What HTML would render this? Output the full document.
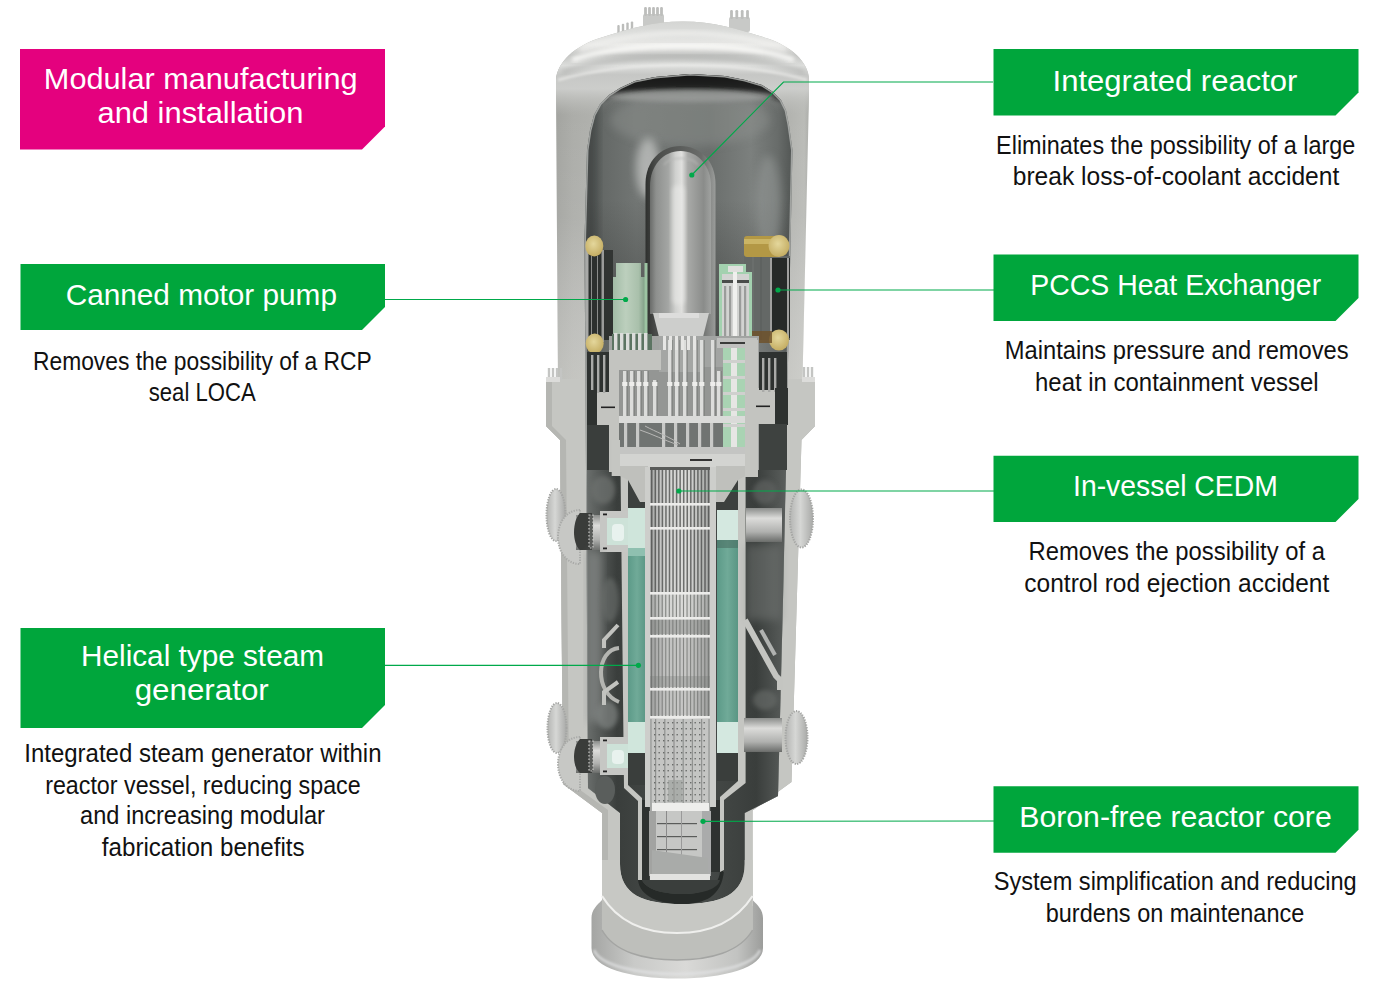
<!DOCTYPE html>
<html><head><meta charset="utf-8"><style>
html,body{margin:0;padding:0;background:#fff;width:1378px;height:986px;overflow:hidden}
svg{display:block;font-family:"Liberation Sans",sans-serif}
</style></head><body>
<svg width="1378" height="986" viewBox="0 0 1378 986">
<defs>
<linearGradient id="gWall" x1="0" x2="1" y1="0" y2="0">
 <stop offset="0" stop-color="#8e8f8b"/><stop offset="0.03" stop-color="#a2a39f"/>
 <stop offset="0.1" stop-color="#acada9"/><stop offset="0.5" stop-color="#c2c3bf"/>
 <stop offset="0.9" stop-color="#b2b3af"/><stop offset="0.96" stop-color="#babbb7"/><stop offset="1" stop-color="#9c9d99"/>
</linearGradient>
<linearGradient id="gDome" x1="0" x2="0" y1="0" y2="1">
 <stop offset="0" stop-color="#d4d5d3"/><stop offset="0.12" stop-color="#dcdddb"/><stop offset="0.25" stop-color="#e8e8e6"/>
 <stop offset="0.36" stop-color="#c2c3c1"/><stop offset="0.47" stop-color="#dddedc"/><stop offset="0.57" stop-color="#c6c7c5"/>
 <stop offset="0.72" stop-color="#cfd0ce" stop-opacity="0.9"/><stop offset="0.86" stop-color="#c0c1be" stop-opacity="0.6"/><stop offset="1" stop-color="#b9bab7" stop-opacity="0"/>
</linearGradient>
<linearGradient id="gCavUp" x1="0" x2="1" y1="0" y2="0">
 <stop offset="0" stop-color="#545856"/><stop offset="0.08" stop-color="#646866"/>
 <stop offset="0.25" stop-color="#727674"/><stop offset="0.4" stop-color="#6e7270"/>
 <stop offset="0.6" stop-color="#6a6e6c"/><stop offset="0.8" stop-color="#7c807e"/>
 <stop offset="0.93" stop-color="#686c6a"/><stop offset="1" stop-color="#525654"/>
</linearGradient>
<linearGradient id="gTopShade" x1="0" x2="0" y1="0" y2="1">
 <stop offset="0" stop-color="#121412" stop-opacity="0.95"/><stop offset="0.14" stop-color="#2a2c2a" stop-opacity="0.7"/><stop offset="0.26" stop-color="#8a8c8a" stop-opacity="0.35"/><stop offset="0.45" stop-color="#6a6c6a" stop-opacity="0"/>
</linearGradient>
<linearGradient id="gBotShade" x1="0" x2="0" y1="0" y2="1">
 <stop offset="0" stop-color="#2a2c2a" stop-opacity="0"/><stop offset="1" stop-color="#2a2c2a" stop-opacity="0.5"/>
</linearGradient>
<linearGradient id="gPress" x1="0" x2="1" y1="0" y2="0">
 <stop offset="0" stop-color="#6a6c6a"/><stop offset="0.1" stop-color="#8e908e"/><stop offset="0.3" stop-color="#a4a6a4"/><stop offset="0.42" stop-color="#d0d1cf"/><stop offset="0.52" stop-color="#e0e0de"/>
 <stop offset="0.62" stop-color="#a9aaa8"/><stop offset="0.88" stop-color="#8a8c8a"/><stop offset="1" stop-color="#a0a2a0"/>
</linearGradient>
<linearGradient id="gRim" x1="0" x2="1" y1="0" y2="0">
 <stop offset="0" stop-color="#2e302e"/><stop offset="0.15" stop-color="#4a4c4a"/><stop offset="0.8" stop-color="#6a6c6a"/><stop offset="1" stop-color="#9a9c9a"/>
</linearGradient>
<linearGradient id="gWallV" x1="0" x2="0" y1="0" y2="1">
 <stop offset="0" stop-color="#ffffff" stop-opacity="0"/><stop offset="0.4" stop-color="#ffffff" stop-opacity="0.05"/><stop offset="1" stop-color="#e8e8e4" stop-opacity="0.4"/>
</linearGradient>
<linearGradient id="gPump" x1="0" x2="1" y1="0" y2="0">
 <stop offset="0" stop-color="#a2bca6"/><stop offset="0.4" stop-color="#bccfbd"/><stop offset="0.8" stop-color="#a9c0ab"/><stop offset="1" stop-color="#7f9e85"/>
</linearGradient>
<radialGradient id="gGold" cx="0.45" cy="0.4" r="0.65">
 <stop offset="0" stop-color="#e4d79c"/><stop offset="1" stop-color="#c2aa5e"/>
</radialGradient>
<linearGradient id="gCore" x1="0" x2="1" y1="0" y2="0">
 <stop offset="0" stop-color="#a4a6a4"/><stop offset="0.25" stop-color="#d2d3d1"/><stop offset="0.6" stop-color="#dcdcda"/><stop offset="1" stop-color="#a4a6a4"/>
</linearGradient>
<linearGradient id="gTeal" x1="0" x2="1" y1="0" y2="0">
 <stop offset="0" stop-color="#5c9a88"/><stop offset="0.5" stop-color="#70aa98"/><stop offset="1" stop-color="#5a9684"/>
</linearGradient>
<linearGradient id="gCavLow" x1="0" x2="1" y1="0" y2="0">
 <stop offset="0" stop-color="#6a6e6c"/><stop offset="0.15" stop-color="#3a3e3c"/><stop offset="0.5" stop-color="#4a4e4c"/><stop offset="0.85" stop-color="#3a3e3c"/><stop offset="1" stop-color="#5a5e5c"/>
</linearGradient>
<linearGradient id="gSkirt" x1="0" x2="1" y1="0" y2="0">
 <stop offset="0" stop-color="#a4a5a3"/><stop offset="0.25" stop-color="#c9cac8"/><stop offset="0.55" stop-color="#d9d9d7"/><stop offset="0.85" stop-color="#c2c3c1"/><stop offset="1" stop-color="#9c9d9b"/>
</linearGradient>
<linearGradient id="gDisc" x1="0" x2="1" y1="0" y2="0">
 <stop offset="0" stop-color="#b4b5b3"/><stop offset="0.45" stop-color="#d6d7d5"/><stop offset="1" stop-color="#a9aaa8"/>
</linearGradient>
<linearGradient id="gPipe" x1="0" x2="0" y1="0" y2="1">
 <stop offset="0" stop-color="#8a8c8a"/><stop offset="0.3" stop-color="#dcdcda"/><stop offset="0.7" stop-color="#b0b1af"/><stop offset="1" stop-color="#6a6c6a"/>
</linearGradient>
<filter id="b2" x="-20%" y="-20%" width="140%" height="140%"><feGaussianBlur stdDeviation="2"/></filter>
<filter id="b4" x="-30%" y="-30%" width="160%" height="160%"><feGaussianBlur stdDeviation="4"/></filter>
<filter id="b1" x="-20%" y="-20%" width="140%" height="140%"><feGaussianBlur stdDeviation="1"/></filter>
</defs>
<g id="reactor">
<rect x="643" y="14" width="21" height="14" rx="2" fill="#c8c9c7"/>
<rect x="644.1" y="7" width="2.8" height="9" rx="1.2" fill="#bdbebc"/>
<rect x="648.1" y="7" width="2.8" height="9" rx="1.2" fill="#bdbebc"/>
<rect x="652.1" y="7" width="2.8" height="9" rx="1.2" fill="#bdbebc"/>
<rect x="656.1" y="7" width="2.8" height="9" rx="1.2" fill="#bdbebc"/>
<rect x="660.1" y="7" width="2.8" height="9" rx="1.2" fill="#bdbebc"/>
<rect x="729" y="17" width="21" height="15" rx="2" fill="#c8c9c7"/>
<rect x="730.1" y="10" width="2.8" height="9" rx="1.2" fill="#bdbebc"/>
<rect x="735.4" y="10" width="2.8" height="9" rx="1.2" fill="#bdbebc"/>
<rect x="740.8" y="10" width="2.8" height="9" rx="1.2" fill="#bdbebc"/>
<rect x="746.1" y="10" width="2.8" height="9" rx="1.2" fill="#bdbebc"/>
<path d="M617,34 L634,28 L634,34 L617,38 Z" fill="#c4c5c3"/>
<rect x="617.3" y="25.0" width="2.4" height="9" rx="1" fill="#bcbdbb"/>
<rect x="621.8" y="23.8" width="2.4" height="9" rx="1" fill="#bcbdbb"/>
<rect x="626.3" y="22.6" width="2.4" height="9" rx="1" fill="#bcbdbb"/>
<rect x="630.8" y="21.4" width="2.4" height="9" rx="1" fill="#bcbdbb"/>
<path d="M556,96 L556,80 C557,62 575,46 600,38 C628,29 652,21.5 683,21.5 C714,21.5 738,29 766,38 C791,46 809,62 809,80 L809,96 L802.5,379 L815,379 L815,426 L801.5,440 L791.5,782 L752.6,810.5 L752.6,900 L602,900 L602,813 L563,784 L560,440 L546,426 L546,379 L558,379 Z" fill="url(#gWall)"/>
<path d="M556,96 L556,80 C557,62 575,46 600,38 C628,29 652,21.5 683,21.5 C714,21.5 738,29 766,38 C791,46 809,62 809,80 L809,115 L556,115 Z" fill="url(#gDome)"/>
<path d="M580,50 C610,38 650,33 683,33 C716,33 756,38 786,50" fill="none" stroke="#f2f2f0" stroke-width="4" opacity="0.8" filter="url(#b2)"/>
<path d="M572,60 C600,50 640,46 683,46 C726,46 766,50 794,60" fill="none" stroke="#fafaf8" stroke-width="6" opacity="0.9" filter="url(#b2)"/>
<path d="M562,72 C600,60 640,57 683,57 C726,57 766,60 804,72" fill="none" stroke="#a9aaa8" stroke-width="4" opacity="0.55" filter="url(#b2)"/>
<path d="M558,80 C600,68 640,65 683,65 C726,65 766,68 807,80" fill="none" stroke="#eeeeec" stroke-width="3" opacity="0.6" filter="url(#b1)"/>
<path d="M556,110 L809,110 L802.5,379 L558,379 Z" fill="url(#gWallV)"/>
<path d="M546,379 L558,379 L802.5,379 L815,379 L815,426 L801.5,440 L791.5,782 L752.6,810.5 L752.6,900 L602,900 L602,813 L563,784 L560,440 L546,426 Z" fill="#c5c6c2"/>
<path d="M546,379 L546,426 L560,440 L563,784 L602,813 L602,900 L608,900 L608,810 L569,782 L566,440 L552,426 L552,379 Z" fill="#b5b6b2"/>
<rect x="547.8" y="368" width="2.4" height="12" fill="#c4c5c3"/>
<rect x="551.8" y="368" width="2.4" height="12" fill="#c4c5c3"/>
<rect x="555.8" y="368" width="2.4" height="12" fill="#c4c5c3"/>
<rect x="559.8" y="368" width="2.4" height="12" fill="#c4c5c3"/>
<rect x="802.8" y="367" width="2.4" height="13" fill="#c4c5c3"/>
<rect x="806.8" y="367" width="2.4" height="13" fill="#c4c5c3"/>
<rect x="810.8" y="367" width="2.4" height="13" fill="#c4c5c3"/>
<rect x="546" y="377" width="14" height="5" fill="#dcdcda"/><rect x="802" y="377" width="13" height="5" fill="#dcdcda"/>
<ellipse cx="556" cy="515" rx="9.5" ry="26" fill="url(#gDisc)" stroke="#a4a5a3" stroke-width="2" stroke-dasharray="1.3 1.3"/>
<ellipse cx="557" cy="728" rx="9.5" ry="25" fill="url(#gDisc)" stroke="#a4a5a3" stroke-width="2" stroke-dasharray="1.3 1.3"/>
<ellipse cx="801.5" cy="518.5" rx="11.5" ry="29" fill="url(#gDisc)" stroke="#a4a5a3" stroke-width="2" stroke-dasharray="1.3 1.3"/>
<ellipse cx="796.5" cy="737.5" rx="11" ry="26.5" fill="url(#gDisc)" stroke="#a4a5a3" stroke-width="2" stroke-dasharray="1.3 1.3"/>
<path d="M580,510 C566,510 558,523 558,537 C558,551 566,564 580,564 Z" fill="#c7c8c5" stroke="#a9aaa8" stroke-width="2" stroke-dasharray="1.3 1.3"/>
<path d="M580,737 C566,737 558,750 558,764 C558,778 566,791 580,791 Z" fill="#c7c8c5" stroke="#a9aaa8" stroke-width="2" stroke-dasharray="1.3 1.3"/>
<clipPath id="cavClip"><path d="M584.5,240 L587,150 L590,130 L594,115 L600,104 L609,95 L620,88 L635,81 L655,77 L690,74 L725,76 L745,80 L762,85 L773,92 L781,100 L786,110 L789,125 L792.5,150 L783,600 L778,796 L744.7,813 L744.7,864 C744.7,895 720,904 682,904 C644,904 620,895 620,864 L620,813 L588,788 L586,470 Z"/></clipPath>
<path d="M584.5,240 L587,150 L590,130 L594,115 L600,104 L609,95 L620,88 L635,81 L655,77 L690,74 L725,76 L745,80 L762,85 L773,92 L781,100 L786,110 L789,125 L792.5,150 L783,600 L778,796 L744.7,813 L744.7,864 C744.7,895 720,904 682,904 C644,904 620,895 620,864 L620,813 L588,788 L586,470 Z" fill="url(#gCavUp)"/>
<g clip-path="url(#cavClip)">
<rect x="580" y="74" width="215" height="90" fill="url(#gTopShade)"/>
<rect x="580" y="200" width="215" height="140" fill="url(#gBotShade)"/>
<path d="M560,120 C590,80 650,72 690,72 C730,72 790,80 820,120 C780,92 730,88 690,88 C650,88 600,92 560,120 Z" fill="#141614" opacity="0.75" filter="url(#b2)"/>
<ellipse cx="690" cy="120" rx="80" ry="26" fill="#8e928f" opacity="0.45" filter="url(#b4)"/>
<ellipse cx="690" cy="96" rx="85" ry="6" fill="#a4a6a4" opacity="0.6" filter="url(#b2)"/>
<ellipse cx="648" cy="168" rx="12" ry="30" fill="#c4c6c4" opacity="0.75" filter="url(#b4)"/>
<rect x="584" y="100" width="14" height="250" fill="#2e3230" opacity="0.45" filter="url(#b4)"/>
<ellipse cx="768" cy="205" rx="13" ry="50" fill="#9a9e9c" opacity="0.5" filter="url(#b4)"/>
<path d="M584.5,240 L587,150 L590,130 L594,115 L600,104 L609,95 L620,88 L635,81 L655,77 L690,74 L725,76 L745,80 L762,85 L773,92 L781,100 L786,110 L789,125 L792.5,150 L783,600 L778,796 L744.7,813 L744.7,864 C744.7,895 720,904 682,904 C644,904 620,895 620,864 L620,813 L588,788 L586,470 Z" fill="none" stroke="#b4b6b4" stroke-width="3" opacity="0.8"/>
</g>
<path d="M587,470 L786,470 L783,600 L778,796 L744.7,813 L744.7,864 C744.7,895 720,904 682,904 C644,904 620,895 620,864 L620,813 L588,788 Z" fill="url(#gCavLow)"/>
<path d="M645.5,336 L645.5,184 C645.5,161 661,146 680.5,146 C700,146 715.5,161 715.5,184 L715.5,336 Z" fill="url(#gRim)"/>
<path d="M650,314 L650,186 C650,166 663,151 680.5,151 C698,151 711,166 711,186 L711,314 Z" fill="url(#gPress)"/>
<path d="M664,165 C670,156 692,156 698,165" stroke="#b8b9b7" stroke-width="2" fill="none" opacity="0.6" filter="url(#b1)"/>
<rect x="672" y="185" width="13" height="120" rx="6" fill="#ececea" opacity="0.5" filter="url(#b2)"/>
<path d="M653,313 L709,313 L703,337 L659,337 Z" fill="#cdcecc"/>
<rect x="659" y="313" width="40" height="5" fill="#e4e4e2" opacity="0.7"/>
<rect x="604" y="250" width="9" height="90" fill="#2a2e2c" opacity="0.85"/>
<path d="M616,263 L641,263 L641,277 L645,277 L645,337 L613,337 L613,277 L616,277 Z" fill="url(#gPump)"/>
<rect x="644.5" y="263" width="3" height="73" fill="#9cc4a2"/>
<rect x="586" y="250" width="18" height="92" fill="#2c302e"/>
<rect x="586" y="250" width="2.5" height="92" fill="#a9aaa8"/><rect x="601.5" y="250" width="2.5" height="92" fill="#9a9b99"/>
<rect x="591" y="256" width="1" height="80" fill="#8a8c8a"/><rect x="597" y="256" width="1" height="80" fill="#8a8c8a"/>
<ellipse cx="594.3" cy="246" rx="9" ry="10.5" fill="url(#gGold)"/>
<ellipse cx="594.7" cy="343.6" rx="9" ry="10" fill="url(#gGold)"/>
<rect x="744" y="256" width="46" height="84" fill="#646866"/>
<rect x="752" y="256" width="2" height="84" fill="#6a6e6c"/><rect x="760" y="256" width="2" height="84" fill="#5e6260"/>
<rect x="770" y="258" width="20" height="80" fill="#262a28"/>
<rect x="770" y="258" width="2" height="80" fill="#a0a19f"/><rect x="787" y="258" width="2" height="80" fill="#a0a19f"/>
<rect x="744" y="236" width="36" height="21" rx="3" fill="#b39845"/>
<rect x="744" y="239" width="34" height="5" fill="#d6c274" opacity="0.7"/>
<ellipse cx="779" cy="246" rx="10.5" ry="11" fill="url(#gGold)"/>
<ellipse cx="779" cy="340" rx="10" ry="10.5" fill="url(#gGold)"/>
<rect x="752" y="331" width="20" height="12" fill="#6e5028" opacity="0.8"/>
<path d="M719,264 L746,264 L746,272 L752,272 L752,346 L719,346 Z" fill="#a3d1af"/>
<rect x="722" y="274" width="27" height="70" fill="#d2d3d1"/>
<rect x="728" y="266" width="15" height="6" fill="#e0e0de"/>
<rect x="724" y="286" width="2.2" height="52" fill="#9a9c9a"/>
<rect x="729" y="286" width="2.2" height="52" fill="#9a9c9a"/>
<rect x="734" y="286" width="2.2" height="52" fill="#9a9c9a"/>
<rect x="739" y="286" width="2.2" height="52" fill="#9a9c9a"/>
<rect x="744" y="286" width="2.2" height="52" fill="#9a9c9a"/>
<rect x="722" y="280" width="27" height="3" fill="#4a4c4a"/><rect x="722" y="336" width="27" height="3" fill="#4a4c4a"/>
<rect x="733" y="272" width="4" height="72" fill="#f0f0ee"/>
<rect x="609" y="336" width="150" height="134" fill="#a2a4a2"/>
<rect x="619" y="367" width="126" height="50" fill="#949694"/>
<rect x="659" y="336" width="42" height="36" fill="#a4a6a4"/>
<rect x="619" y="423" width="126" height="25" fill="#707472"/>
<rect x="623" y="371" width="3.6" height="47" fill="#dcdddb"/>
<rect x="626.6" y="371" width="1" height="47" fill="#7a7c7a"/>
<rect x="622.2" y="382" width="5.2" height="4" fill="#eeeeec"/>
<rect x="630" y="371" width="3.6" height="47" fill="#dcdddb"/>
<rect x="633.6" y="371" width="1" height="47" fill="#7a7c7a"/>
<rect x="629.2" y="382" width="5.2" height="4" fill="#eeeeec"/>
<rect x="637" y="371" width="3.6" height="47" fill="#dcdddb"/>
<rect x="640.6" y="371" width="1" height="47" fill="#7a7c7a"/>
<rect x="636.2" y="382" width="5.2" height="4" fill="#eeeeec"/>
<rect x="644" y="371" width="3.6" height="47" fill="#dcdddb"/>
<rect x="647.6" y="371" width="1" height="47" fill="#7a7c7a"/>
<rect x="643.2" y="382" width="5.2" height="4" fill="#eeeeec"/>
<rect x="653" y="380" width="3.6" height="38" fill="#dcdddb"/>
<rect x="656.6" y="380" width="1" height="38" fill="#7a7c7a"/>
<rect x="652.2" y="382" width="5.2" height="4" fill="#eeeeec"/>
<rect x="668" y="340" width="3.6" height="78" fill="#dcdddb"/>
<rect x="671.6" y="340" width="1" height="78" fill="#7a7c7a"/>
<rect x="667.2" y="382" width="5.2" height="4" fill="#eeeeec"/>
<rect x="675" y="340" width="3.6" height="78" fill="#dcdddb"/>
<rect x="678.6" y="340" width="1" height="78" fill="#7a7c7a"/>
<rect x="674.2" y="382" width="5.2" height="4" fill="#eeeeec"/>
<rect x="683" y="340" width="3.6" height="78" fill="#dcdddb"/>
<rect x="686.6" y="340" width="1" height="78" fill="#7a7c7a"/>
<rect x="682.2" y="382" width="5.2" height="4" fill="#eeeeec"/>
<rect x="693" y="340" width="3.6" height="78" fill="#dcdddb"/>
<rect x="696.6" y="340" width="1" height="78" fill="#7a7c7a"/>
<rect x="692.2" y="382" width="5.2" height="4" fill="#eeeeec"/>
<rect x="700" y="340" width="3.6" height="78" fill="#dcdddb"/>
<rect x="703.6" y="340" width="1" height="78" fill="#7a7c7a"/>
<rect x="699.2" y="382" width="5.2" height="4" fill="#eeeeec"/>
<rect x="711" y="340" width="3.6" height="78" fill="#dcdddb"/>
<rect x="714.6" y="340" width="1" height="78" fill="#7a7c7a"/>
<rect x="710.2" y="382" width="5.2" height="4" fill="#eeeeec"/>
<rect x="717" y="371" width="3.6" height="47" fill="#dcdddb"/>
<rect x="720.6" y="371" width="1" height="47" fill="#7a7c7a"/>
<rect x="716.2" y="382" width="5.2" height="4" fill="#eeeeec"/>
<rect x="612" y="334" width="40" height="16" fill="#5c7462"/>
<rect x="614" y="333" width="3.4" height="18" fill="#dcdddb"/>
<rect x="620" y="333" width="3.4" height="18" fill="#dcdddb"/>
<rect x="626" y="333" width="3.4" height="18" fill="#dcdddb"/>
<rect x="632" y="333" width="3.4" height="18" fill="#dcdddb"/>
<rect x="638" y="333" width="3.4" height="18" fill="#dcdddb"/>
<rect x="644" y="333" width="3.4" height="18" fill="#dcdddb"/>
<rect x="663" y="336" width="3" height="14" fill="#e6e6e4"/>
<rect x="669" y="336" width="3" height="14" fill="#e6e6e4"/>
<rect x="675" y="336" width="3" height="14" fill="#e6e6e4"/>
<rect x="681" y="336" width="3" height="14" fill="#e6e6e4"/>
<rect x="687" y="336" width="3" height="14" fill="#e6e6e4"/>
<rect x="693" y="336" width="3" height="14" fill="#e6e6e4"/>
<rect x="723" y="346" width="22" height="102" fill="#a9d3b3"/>
<rect x="731" y="346" width="6" height="102" fill="#e6e6e4"/>
<rect x="723" y="360" width="22" height="3" fill="#cfd0ce"/>
<rect x="723" y="376" width="22" height="3" fill="#cfd0ce"/>
<rect x="723" y="392" width="22" height="3" fill="#cfd0ce"/>
<rect x="723" y="408" width="22" height="3" fill="#cfd0ce"/>
<rect x="723" y="424" width="22" height="3" fill="#cfd0ce"/>
<rect x="717" y="338" width="40" height="10" fill="#c0c1bf"/>
<rect x="720" y="342" width="34" height="2" fill="#3a3c3a"/>
<rect x="619" y="416" width="128" height="7" fill="#dadbd9"/>
<rect x="624" y="423" width="3.2" height="25" fill="#c8c9c7"/>
<rect x="636" y="423" width="3.2" height="25" fill="#c8c9c7"/>
<rect x="662" y="423" width="3.2" height="25" fill="#c8c9c7"/>
<rect x="674" y="423" width="3.2" height="25" fill="#c8c9c7"/>
<rect x="686" y="423" width="3.2" height="25" fill="#c8c9c7"/>
<rect x="698" y="423" width="3.2" height="25" fill="#c8c9c7"/>
<rect x="710" y="423" width="3.2" height="25" fill="#c8c9c7"/>
<path d="M640,430 C652,434 664,440 678,445 M645,426 C656,432 668,436 680,444" stroke="#b8b8b6" stroke-width="1" fill="none"/>
<rect x="617" y="447" width="132" height="8" fill="#c4c5c3"/>
<g fill="#c3c4c0">
<rect x="609" y="350" width="10" height="122"/>
<rect x="597" y="390" width="22" height="35"/>
<rect x="615" y="350" width="46" height="20"/>
<rect x="745" y="340" width="13" height="137"/>
<rect x="745" y="388" width="30" height="36"/>
</g>
<rect x="601" y="406.5" width="14" height="1.6" fill="#222"/><rect x="756" y="405.5" width="14" height="1.6" fill="#222"/>
<rect x="587" y="352" width="22" height="40" fill="#2e3230"/>
<rect x="759" y="352" width="28" height="38" fill="#2e3230"/>
<rect x="591" y="355" width="2.4" height="38" fill="#a9aaa8"/>
<rect x="597" y="355" width="2.4" height="38" fill="#a9aaa8"/>
<rect x="603" y="355" width="2.4" height="38" fill="#a9aaa8"/>
<rect x="762" y="358" width="2.4" height="34" fill="#a9aaa8"/>
<rect x="768" y="358" width="2.4" height="34" fill="#a9aaa8"/>
<rect x="774" y="358" width="2.4" height="34" fill="#a9aaa8"/>
<rect x="587" y="390" width="10" height="36" fill="#2e3230"/>
<rect x="775" y="388" width="13" height="37" fill="#2e3230"/>
<rect x="587" y="425" width="22" height="45" fill="#3a3e3c"/>
<rect x="759" y="424" width="28" height="46" fill="#3e4240"/>
<rect x="617" y="454" width="133" height="13" fill="#d3d4d1"/>
<rect x="690" y="459" width="22" height="2" fill="#333"/>
<path d="M628,467 L646,467 L646,508 L628,508 Z" fill="#3c403e"/>
<path d="M716,467 L738,467 L738,510 L716,510 Z" fill="#3c403e"/>
<path d="M611.7,440 L620,440 L620,472 L628,472 L628,785 L642,798 L642,880 L638,880 L638,801 L624,788 L620.6,476 L611.7,476 Z" fill="#c5c6c2"/>
<path d="M745,440 L750,440 L750,477 L745.6,477 L745.6,783 L724,800 L724,872 L720,872 L720,797 L738,781 L738,472 L745,472 Z" fill="#c5c6c2"/>
<path d="M620,466 L648,466 L648,502 L640,502 L628,480 L620,476 Z" fill="#bfc0bc"/>
<path d="M716,502 L716,466 L745,466 L745,476 L738,480 L724,502 Z" fill="#bfc0bc"/>
<rect x="576" y="515" width="26" height="35" fill="url(#gPipe)"/>
<path d="M580,513 C572,521 572,544 580,550 L592,550 L592,513 Z" fill="#3a3c3a"/>
<rect x="589" y="515" width="4" height="33" fill="#5a5c5a" stroke="#c8c8c6" stroke-width="1.2" stroke-dasharray="1.5 2"/>
<path d="M600,511 L628,511 L628,518 L607,518 L607,545 L628,545 L628,552 L600,552 Z" fill="#c6c7c4"/>
<rect x="607" y="518" width="21" height="27" fill="#cde2d8"/>
<rect x="612" y="524" width="12" height="17" rx="4" fill="#e8f2ee"/>
<rect x="603" y="513.5" width="4" height="1.8" fill="#222"/><rect x="603" y="547.5" width="4" height="1.8" fill="#222"/>
<rect x="576" y="741" width="26" height="32" fill="url(#gPipe)"/>
<path d="M580,739 C572,747 572,767 580,773 L592,773 L592,739 Z" fill="#3a3c3a"/>
<rect x="589" y="741" width="4" height="30" fill="#5a5c5a" stroke="#c8c8c6" stroke-width="1.2" stroke-dasharray="1.5 2"/>
<path d="M600,737 L628,737 L628,744 L607,744 L607,768 L628,768 L628,775 L600,775 Z" fill="#c6c7c4"/>
<rect x="607" y="744" width="21" height="24" fill="#cde2d8"/>
<rect x="612" y="750" width="12" height="14" rx="4" fill="#e8f2ee"/>
<rect x="603" y="739.5" width="4" height="1.8" fill="#222"/><rect x="603" y="770.5" width="4" height="1.8" fill="#222"/>
<rect x="588" y="552" width="14" height="170" fill="#8a8e8c" opacity="0.6" filter="url(#b4)"/>
<ellipse cx="610" cy="600" rx="9" ry="22" fill="#6a6e6c" opacity="0.6" filter="url(#b2)"/>
<ellipse cx="607" cy="715" rx="11" ry="14" fill="#7e8280" opacity="0.7" filter="url(#b2)"/>
<ellipse cx="603" cy="490" rx="12" ry="14" fill="#6e7270" opacity="0.7" filter="url(#b2)"/>
<ellipse cx="765" cy="492" rx="12" ry="12" fill="#5e6260" opacity="0.7" filter="url(#b2)"/>
<path d="M618,625 L604,640 L604,648" stroke="#c2c3bf" stroke-width="4" fill="none"/>
<path d="M619,648 C596,650 594,692 619,702" stroke="#b4b5b1" stroke-width="4" fill="none"/>
<path d="M618,682 L604,692 L604,705" stroke="#c2c3bf" stroke-width="4" fill="none"/>
<ellipse cx="605" cy="790" rx="10" ry="14" fill="#5a5e5c"/>
<rect x="746" y="508" width="36" height="34" fill="url(#gPipe)"/>
<rect x="744" y="718" width="38" height="34" fill="url(#gPipe)"/>
<rect x="747" y="545" width="34" height="75" fill="#7a7e7c" opacity="0.45" filter="url(#b4)"/>
<path d="M745,620 L776,676 L780,680 L780,690" stroke="#c4c5c1" stroke-width="6" fill="none"/>
<path d="M761,630 L775,655" stroke="#b0b2b0" stroke-width="4" fill="none"/>
<ellipse cx="765" cy="700" rx="12" ry="10" fill="#6a6e6c" opacity="0.6" filter="url(#b2)"/>
<rect x="628" y="508" width="18" height="40" fill="#cfe5db"/>
<rect x="628" y="548" width="18" height="8" fill="#8fc0b0"/>
<rect x="628" y="556" width="18" height="166" fill="url(#gTeal)"/>
<rect x="628" y="722" width="18" height="31" fill="#d0e6dc"/>
<rect x="628" y="753" width="18" height="32" fill="#3a3e3c"/>
<rect x="717" y="510" width="21" height="30" fill="#d4e8e0"/>
<rect x="717" y="540" width="21" height="182" fill="url(#gTeal)"/>
<rect x="717" y="540" width="21" height="8" fill="#4a6e62" opacity="0.6"/>
<rect x="717" y="722" width="21" height="31" fill="#d4e8e0"/>
<rect x="717" y="753" width="21" height="28" fill="#3a3e3c"/>
<path d="M642,800 L649,800 L649,880 L642,880 Z" fill="#2e3230"/>
<path d="M711,800 L720,800 L720,872 L711,872 Z" fill="#2e3230"/>
<rect x="645" y="467" width="5" height="340" fill="#cdcecb"/>
<rect x="710" y="467" width="6" height="340" fill="#cdcecb"/>
<rect x="650" y="467" width="60" height="413" fill="url(#gCore)"/>
<rect x="650" y="467" width="60" height="3" fill="#5a5c5a"/>
<rect x="651.00" y="470" width="1.5" height="122" fill="#3e403e" opacity="0.7"/>
<rect x="651.00" y="592" width="1.1" height="124" fill="#4a4c4a" opacity="0.6"/>
<rect x="654.55" y="470" width="1.5" height="122" fill="#3e403e" opacity="0.7"/>
<rect x="654.55" y="592" width="1.1" height="124" fill="#4a4c4a" opacity="0.6"/>
<rect x="658.10" y="470" width="1.5" height="122" fill="#3e403e" opacity="0.7"/>
<rect x="658.10" y="592" width="1.1" height="124" fill="#4a4c4a" opacity="0.6"/>
<rect x="661.65" y="470" width="1.5" height="122" fill="#3e403e" opacity="0.7"/>
<rect x="661.65" y="592" width="1.1" height="124" fill="#4a4c4a" opacity="0.6"/>
<rect x="665.20" y="470" width="1.5" height="122" fill="#3e403e" opacity="0.7"/>
<rect x="665.20" y="592" width="1.1" height="124" fill="#4a4c4a" opacity="0.6"/>
<rect x="668.75" y="470" width="1.5" height="122" fill="#3e403e" opacity="0.7"/>
<rect x="668.75" y="592" width="1.1" height="124" fill="#4a4c4a" opacity="0.6"/>
<rect x="672.30" y="470" width="1.5" height="122" fill="#3e403e" opacity="0.7"/>
<rect x="672.30" y="592" width="1.1" height="124" fill="#4a4c4a" opacity="0.6"/>
<rect x="675.85" y="470" width="1.5" height="122" fill="#3e403e" opacity="0.7"/>
<rect x="675.85" y="592" width="1.1" height="124" fill="#4a4c4a" opacity="0.6"/>
<rect x="679.40" y="470" width="1.5" height="122" fill="#3e403e" opacity="0.7"/>
<rect x="679.40" y="592" width="1.1" height="124" fill="#4a4c4a" opacity="0.6"/>
<rect x="682.95" y="470" width="1.5" height="122" fill="#3e403e" opacity="0.7"/>
<rect x="682.95" y="592" width="1.1" height="124" fill="#4a4c4a" opacity="0.6"/>
<rect x="686.50" y="470" width="1.5" height="122" fill="#3e403e" opacity="0.7"/>
<rect x="686.50" y="592" width="1.1" height="124" fill="#4a4c4a" opacity="0.6"/>
<rect x="690.05" y="470" width="1.5" height="122" fill="#3e403e" opacity="0.7"/>
<rect x="690.05" y="592" width="1.1" height="124" fill="#4a4c4a" opacity="0.6"/>
<rect x="693.60" y="470" width="1.5" height="122" fill="#3e403e" opacity="0.7"/>
<rect x="693.60" y="592" width="1.1" height="124" fill="#4a4c4a" opacity="0.6"/>
<rect x="697.15" y="470" width="1.5" height="122" fill="#3e403e" opacity="0.7"/>
<rect x="697.15" y="592" width="1.1" height="124" fill="#4a4c4a" opacity="0.6"/>
<rect x="700.70" y="470" width="1.5" height="122" fill="#3e403e" opacity="0.7"/>
<rect x="700.70" y="592" width="1.1" height="124" fill="#4a4c4a" opacity="0.6"/>
<rect x="704.25" y="470" width="1.5" height="122" fill="#3e403e" opacity="0.7"/>
<rect x="704.25" y="592" width="1.1" height="124" fill="#4a4c4a" opacity="0.6"/>
<rect x="707.80" y="470" width="1.5" height="122" fill="#3e403e" opacity="0.7"/>
<rect x="707.80" y="592" width="1.1" height="124" fill="#4a4c4a" opacity="0.6"/>
<rect x="650" y="619" width="60" height="15" fill="#7a7c7a" opacity="0.45"/>
<rect x="650" y="676" width="60" height="11" fill="#7a7c7a" opacity="0.45"/>
<rect x="650" y="637" width="60" height="39" fill="#8a8c8a" opacity="0.25"/>
<rect x="650" y="690" width="60" height="25" fill="#8a8c8a" opacity="0.25"/>
<rect x="650" y="503" width="60" height="2.6" fill="#ececea"/>
<rect x="650" y="527" width="60" height="2.6" fill="#ececea"/>
<rect x="650" y="592" width="60" height="2.6" fill="#ececea"/>
<rect x="650" y="617" width="60" height="2.6" fill="#ececea"/>
<rect x="650" y="635" width="60" height="2.6" fill="#ececea"/>
<rect x="650" y="688" width="60" height="2.6" fill="#ececea"/>
<rect x="650" y="716" width="60" height="2.6" fill="#ececea"/>
<rect x="652" y="719" width="56" height="84" fill="#c4c5c3"/>
<rect x="655.0" y="719" width="1.2" height="84" fill="#7a7c7a" opacity="0.7"/>
<rect x="664.2" y="719" width="1.2" height="84" fill="#7a7c7a" opacity="0.7"/>
<rect x="673.4" y="719" width="1.2" height="84" fill="#7a7c7a" opacity="0.7"/>
<rect x="682.6" y="719" width="1.2" height="84" fill="#7a7c7a" opacity="0.7"/>
<rect x="691.8" y="719" width="1.2" height="84" fill="#7a7c7a" opacity="0.7"/>
<rect x="701.0" y="719" width="1.2" height="84" fill="#7a7c7a" opacity="0.7"/>
<rect x="654.0" y="722" width="1.4" height="1.4" fill="#6a6c6a"/>
<rect x="658.5" y="722" width="1.4" height="1.4" fill="#6a6c6a"/>
<rect x="663.0" y="722" width="1.4" height="1.4" fill="#6a6c6a"/>
<rect x="667.5" y="722" width="1.4" height="1.4" fill="#6a6c6a"/>
<rect x="672.0" y="722" width="1.4" height="1.4" fill="#6a6c6a"/>
<rect x="676.5" y="722" width="1.4" height="1.4" fill="#6a6c6a"/>
<rect x="681.0" y="722" width="1.4" height="1.4" fill="#6a6c6a"/>
<rect x="685.5" y="722" width="1.4" height="1.4" fill="#6a6c6a"/>
<rect x="690.0" y="722" width="1.4" height="1.4" fill="#6a6c6a"/>
<rect x="694.5" y="722" width="1.4" height="1.4" fill="#6a6c6a"/>
<rect x="699.0" y="722" width="1.4" height="1.4" fill="#6a6c6a"/>
<rect x="703.5" y="722" width="1.4" height="1.4" fill="#6a6c6a"/>
<rect x="654.0" y="728" width="1.4" height="1.4" fill="#6a6c6a"/>
<rect x="658.5" y="728" width="1.4" height="1.4" fill="#6a6c6a"/>
<rect x="663.0" y="728" width="1.4" height="1.4" fill="#6a6c6a"/>
<rect x="667.5" y="728" width="1.4" height="1.4" fill="#6a6c6a"/>
<rect x="672.0" y="728" width="1.4" height="1.4" fill="#6a6c6a"/>
<rect x="676.5" y="728" width="1.4" height="1.4" fill="#6a6c6a"/>
<rect x="681.0" y="728" width="1.4" height="1.4" fill="#6a6c6a"/>
<rect x="685.5" y="728" width="1.4" height="1.4" fill="#6a6c6a"/>
<rect x="690.0" y="728" width="1.4" height="1.4" fill="#6a6c6a"/>
<rect x="694.5" y="728" width="1.4" height="1.4" fill="#6a6c6a"/>
<rect x="699.0" y="728" width="1.4" height="1.4" fill="#6a6c6a"/>
<rect x="703.5" y="728" width="1.4" height="1.4" fill="#6a6c6a"/>
<rect x="654.0" y="734" width="1.4" height="1.4" fill="#6a6c6a"/>
<rect x="658.5" y="734" width="1.4" height="1.4" fill="#6a6c6a"/>
<rect x="663.0" y="734" width="1.4" height="1.4" fill="#6a6c6a"/>
<rect x="667.5" y="734" width="1.4" height="1.4" fill="#6a6c6a"/>
<rect x="672.0" y="734" width="1.4" height="1.4" fill="#6a6c6a"/>
<rect x="676.5" y="734" width="1.4" height="1.4" fill="#6a6c6a"/>
<rect x="681.0" y="734" width="1.4" height="1.4" fill="#6a6c6a"/>
<rect x="685.5" y="734" width="1.4" height="1.4" fill="#6a6c6a"/>
<rect x="690.0" y="734" width="1.4" height="1.4" fill="#6a6c6a"/>
<rect x="694.5" y="734" width="1.4" height="1.4" fill="#6a6c6a"/>
<rect x="699.0" y="734" width="1.4" height="1.4" fill="#6a6c6a"/>
<rect x="703.5" y="734" width="1.4" height="1.4" fill="#6a6c6a"/>
<rect x="654.0" y="740" width="1.4" height="1.4" fill="#6a6c6a"/>
<rect x="658.5" y="740" width="1.4" height="1.4" fill="#6a6c6a"/>
<rect x="663.0" y="740" width="1.4" height="1.4" fill="#6a6c6a"/>
<rect x="667.5" y="740" width="1.4" height="1.4" fill="#6a6c6a"/>
<rect x="672.0" y="740" width="1.4" height="1.4" fill="#6a6c6a"/>
<rect x="676.5" y="740" width="1.4" height="1.4" fill="#6a6c6a"/>
<rect x="681.0" y="740" width="1.4" height="1.4" fill="#6a6c6a"/>
<rect x="685.5" y="740" width="1.4" height="1.4" fill="#6a6c6a"/>
<rect x="690.0" y="740" width="1.4" height="1.4" fill="#6a6c6a"/>
<rect x="694.5" y="740" width="1.4" height="1.4" fill="#6a6c6a"/>
<rect x="699.0" y="740" width="1.4" height="1.4" fill="#6a6c6a"/>
<rect x="703.5" y="740" width="1.4" height="1.4" fill="#6a6c6a"/>
<rect x="654.0" y="746" width="1.4" height="1.4" fill="#6a6c6a"/>
<rect x="658.5" y="746" width="1.4" height="1.4" fill="#6a6c6a"/>
<rect x="663.0" y="746" width="1.4" height="1.4" fill="#6a6c6a"/>
<rect x="667.5" y="746" width="1.4" height="1.4" fill="#6a6c6a"/>
<rect x="672.0" y="746" width="1.4" height="1.4" fill="#6a6c6a"/>
<rect x="676.5" y="746" width="1.4" height="1.4" fill="#6a6c6a"/>
<rect x="681.0" y="746" width="1.4" height="1.4" fill="#6a6c6a"/>
<rect x="685.5" y="746" width="1.4" height="1.4" fill="#6a6c6a"/>
<rect x="690.0" y="746" width="1.4" height="1.4" fill="#6a6c6a"/>
<rect x="694.5" y="746" width="1.4" height="1.4" fill="#6a6c6a"/>
<rect x="699.0" y="746" width="1.4" height="1.4" fill="#6a6c6a"/>
<rect x="703.5" y="746" width="1.4" height="1.4" fill="#6a6c6a"/>
<rect x="654.0" y="752" width="1.4" height="1.4" fill="#6a6c6a"/>
<rect x="658.5" y="752" width="1.4" height="1.4" fill="#6a6c6a"/>
<rect x="663.0" y="752" width="1.4" height="1.4" fill="#6a6c6a"/>
<rect x="667.5" y="752" width="1.4" height="1.4" fill="#6a6c6a"/>
<rect x="672.0" y="752" width="1.4" height="1.4" fill="#6a6c6a"/>
<rect x="676.5" y="752" width="1.4" height="1.4" fill="#6a6c6a"/>
<rect x="681.0" y="752" width="1.4" height="1.4" fill="#6a6c6a"/>
<rect x="685.5" y="752" width="1.4" height="1.4" fill="#6a6c6a"/>
<rect x="690.0" y="752" width="1.4" height="1.4" fill="#6a6c6a"/>
<rect x="694.5" y="752" width="1.4" height="1.4" fill="#6a6c6a"/>
<rect x="699.0" y="752" width="1.4" height="1.4" fill="#6a6c6a"/>
<rect x="703.5" y="752" width="1.4" height="1.4" fill="#6a6c6a"/>
<rect x="654.0" y="758" width="1.4" height="1.4" fill="#6a6c6a"/>
<rect x="658.5" y="758" width="1.4" height="1.4" fill="#6a6c6a"/>
<rect x="663.0" y="758" width="1.4" height="1.4" fill="#6a6c6a"/>
<rect x="667.5" y="758" width="1.4" height="1.4" fill="#6a6c6a"/>
<rect x="672.0" y="758" width="1.4" height="1.4" fill="#6a6c6a"/>
<rect x="676.5" y="758" width="1.4" height="1.4" fill="#6a6c6a"/>
<rect x="681.0" y="758" width="1.4" height="1.4" fill="#6a6c6a"/>
<rect x="685.5" y="758" width="1.4" height="1.4" fill="#6a6c6a"/>
<rect x="690.0" y="758" width="1.4" height="1.4" fill="#6a6c6a"/>
<rect x="694.5" y="758" width="1.4" height="1.4" fill="#6a6c6a"/>
<rect x="699.0" y="758" width="1.4" height="1.4" fill="#6a6c6a"/>
<rect x="703.5" y="758" width="1.4" height="1.4" fill="#6a6c6a"/>
<rect x="654.0" y="764" width="1.4" height="1.4" fill="#6a6c6a"/>
<rect x="658.5" y="764" width="1.4" height="1.4" fill="#6a6c6a"/>
<rect x="663.0" y="764" width="1.4" height="1.4" fill="#6a6c6a"/>
<rect x="667.5" y="764" width="1.4" height="1.4" fill="#6a6c6a"/>
<rect x="672.0" y="764" width="1.4" height="1.4" fill="#6a6c6a"/>
<rect x="676.5" y="764" width="1.4" height="1.4" fill="#6a6c6a"/>
<rect x="681.0" y="764" width="1.4" height="1.4" fill="#6a6c6a"/>
<rect x="685.5" y="764" width="1.4" height="1.4" fill="#6a6c6a"/>
<rect x="690.0" y="764" width="1.4" height="1.4" fill="#6a6c6a"/>
<rect x="694.5" y="764" width="1.4" height="1.4" fill="#6a6c6a"/>
<rect x="699.0" y="764" width="1.4" height="1.4" fill="#6a6c6a"/>
<rect x="703.5" y="764" width="1.4" height="1.4" fill="#6a6c6a"/>
<rect x="654.0" y="770" width="1.4" height="1.4" fill="#6a6c6a"/>
<rect x="658.5" y="770" width="1.4" height="1.4" fill="#6a6c6a"/>
<rect x="663.0" y="770" width="1.4" height="1.4" fill="#6a6c6a"/>
<rect x="667.5" y="770" width="1.4" height="1.4" fill="#6a6c6a"/>
<rect x="672.0" y="770" width="1.4" height="1.4" fill="#6a6c6a"/>
<rect x="676.5" y="770" width="1.4" height="1.4" fill="#6a6c6a"/>
<rect x="681.0" y="770" width="1.4" height="1.4" fill="#6a6c6a"/>
<rect x="685.5" y="770" width="1.4" height="1.4" fill="#6a6c6a"/>
<rect x="690.0" y="770" width="1.4" height="1.4" fill="#6a6c6a"/>
<rect x="694.5" y="770" width="1.4" height="1.4" fill="#6a6c6a"/>
<rect x="699.0" y="770" width="1.4" height="1.4" fill="#6a6c6a"/>
<rect x="703.5" y="770" width="1.4" height="1.4" fill="#6a6c6a"/>
<rect x="654.0" y="776" width="1.4" height="1.4" fill="#6a6c6a"/>
<rect x="658.5" y="776" width="1.4" height="1.4" fill="#6a6c6a"/>
<rect x="663.0" y="776" width="1.4" height="1.4" fill="#6a6c6a"/>
<rect x="667.5" y="776" width="1.4" height="1.4" fill="#6a6c6a"/>
<rect x="672.0" y="776" width="1.4" height="1.4" fill="#6a6c6a"/>
<rect x="676.5" y="776" width="1.4" height="1.4" fill="#6a6c6a"/>
<rect x="681.0" y="776" width="1.4" height="1.4" fill="#6a6c6a"/>
<rect x="685.5" y="776" width="1.4" height="1.4" fill="#6a6c6a"/>
<rect x="690.0" y="776" width="1.4" height="1.4" fill="#6a6c6a"/>
<rect x="694.5" y="776" width="1.4" height="1.4" fill="#6a6c6a"/>
<rect x="699.0" y="776" width="1.4" height="1.4" fill="#6a6c6a"/>
<rect x="703.5" y="776" width="1.4" height="1.4" fill="#6a6c6a"/>
<rect x="654.0" y="782" width="1.4" height="1.4" fill="#6a6c6a"/>
<rect x="658.5" y="782" width="1.4" height="1.4" fill="#6a6c6a"/>
<rect x="663.0" y="782" width="1.4" height="1.4" fill="#6a6c6a"/>
<rect x="667.5" y="782" width="1.4" height="1.4" fill="#6a6c6a"/>
<rect x="672.0" y="782" width="1.4" height="1.4" fill="#6a6c6a"/>
<rect x="676.5" y="782" width="1.4" height="1.4" fill="#6a6c6a"/>
<rect x="681.0" y="782" width="1.4" height="1.4" fill="#6a6c6a"/>
<rect x="685.5" y="782" width="1.4" height="1.4" fill="#6a6c6a"/>
<rect x="690.0" y="782" width="1.4" height="1.4" fill="#6a6c6a"/>
<rect x="694.5" y="782" width="1.4" height="1.4" fill="#6a6c6a"/>
<rect x="699.0" y="782" width="1.4" height="1.4" fill="#6a6c6a"/>
<rect x="703.5" y="782" width="1.4" height="1.4" fill="#6a6c6a"/>
<rect x="654.0" y="788" width="1.4" height="1.4" fill="#6a6c6a"/>
<rect x="658.5" y="788" width="1.4" height="1.4" fill="#6a6c6a"/>
<rect x="663.0" y="788" width="1.4" height="1.4" fill="#6a6c6a"/>
<rect x="667.5" y="788" width="1.4" height="1.4" fill="#6a6c6a"/>
<rect x="672.0" y="788" width="1.4" height="1.4" fill="#6a6c6a"/>
<rect x="676.5" y="788" width="1.4" height="1.4" fill="#6a6c6a"/>
<rect x="681.0" y="788" width="1.4" height="1.4" fill="#6a6c6a"/>
<rect x="685.5" y="788" width="1.4" height="1.4" fill="#6a6c6a"/>
<rect x="690.0" y="788" width="1.4" height="1.4" fill="#6a6c6a"/>
<rect x="694.5" y="788" width="1.4" height="1.4" fill="#6a6c6a"/>
<rect x="699.0" y="788" width="1.4" height="1.4" fill="#6a6c6a"/>
<rect x="703.5" y="788" width="1.4" height="1.4" fill="#6a6c6a"/>
<rect x="654.0" y="794" width="1.4" height="1.4" fill="#6a6c6a"/>
<rect x="658.5" y="794" width="1.4" height="1.4" fill="#6a6c6a"/>
<rect x="663.0" y="794" width="1.4" height="1.4" fill="#6a6c6a"/>
<rect x="667.5" y="794" width="1.4" height="1.4" fill="#6a6c6a"/>
<rect x="672.0" y="794" width="1.4" height="1.4" fill="#6a6c6a"/>
<rect x="676.5" y="794" width="1.4" height="1.4" fill="#6a6c6a"/>
<rect x="681.0" y="794" width="1.4" height="1.4" fill="#6a6c6a"/>
<rect x="685.5" y="794" width="1.4" height="1.4" fill="#6a6c6a"/>
<rect x="690.0" y="794" width="1.4" height="1.4" fill="#6a6c6a"/>
<rect x="694.5" y="794" width="1.4" height="1.4" fill="#6a6c6a"/>
<rect x="699.0" y="794" width="1.4" height="1.4" fill="#6a6c6a"/>
<rect x="703.5" y="794" width="1.4" height="1.4" fill="#6a6c6a"/>
<rect x="654.0" y="800" width="1.4" height="1.4" fill="#6a6c6a"/>
<rect x="658.5" y="800" width="1.4" height="1.4" fill="#6a6c6a"/>
<rect x="663.0" y="800" width="1.4" height="1.4" fill="#6a6c6a"/>
<rect x="667.5" y="800" width="1.4" height="1.4" fill="#6a6c6a"/>
<rect x="672.0" y="800" width="1.4" height="1.4" fill="#6a6c6a"/>
<rect x="676.5" y="800" width="1.4" height="1.4" fill="#6a6c6a"/>
<rect x="681.0" y="800" width="1.4" height="1.4" fill="#6a6c6a"/>
<rect x="685.5" y="800" width="1.4" height="1.4" fill="#6a6c6a"/>
<rect x="690.0" y="800" width="1.4" height="1.4" fill="#6a6c6a"/>
<rect x="694.5" y="800" width="1.4" height="1.4" fill="#6a6c6a"/>
<rect x="699.0" y="800" width="1.4" height="1.4" fill="#6a6c6a"/>
<rect x="703.5" y="800" width="1.4" height="1.4" fill="#6a6c6a"/>
<rect x="668" y="780" width="14" height="22" fill="#9a9c9a" opacity="0.6"/>
<rect x="652" y="803" width="57" height="8" fill="#eeeeec"/>
<rect x="649" y="811" width="62" height="65" fill="#c6c7c5"/>
<rect x="649" y="811" width="7" height="65" fill="#a2a3a1"/><rect x="702" y="811" width="9" height="65" fill="#aaabab"/>
<rect x="657" y="823" width="40" height="1.2" fill="#5a5c5a"/>
<rect x="657" y="836" width="40" height="1.2" fill="#5a5c5a"/>
<rect x="657" y="849" width="40" height="1.2" fill="#5a5c5a"/>
<rect x="666" y="811" width="1" height="50" fill="#8a8a8a"/><rect x="681" y="811" width="1" height="50" fill="#9a9a9a"/>
<path d="M652,850 L708,858 L708,874 L652,874 Z" fill="#a9aba9"/>
<rect x="650" y="874" width="60" height="6" fill="#e2e2e0"/>
<path d="M638,880 C640,897 660,904 682,904 C704,904 722,897 724,870 L720,872 C718,889 702,894 682,894 C662,894 646,889 642,880 Z" fill="#262a28"/>
<path d="M642,880 L720,880 C718,889 702,894 682,894 C662,894 646,889 642,880 Z" fill="#3a3e3c"/>
<path d="M602,906 L602,900 C597,905 591.5,910 591.5,918 L591.5,948 C591.5,968 630,978.5 677,978.5 C724,978.5 763,968 763,948 L763,918 C763,910 757.6,905 752.6,900 L752.6,906 Z" fill="url(#gSkirt)"/>
<path d="M594,950 C600,966 640,974 677,974 C714,974 754,966 760,950" fill="none" stroke="#e2e3e4" stroke-width="3" opacity="0.7" filter="url(#b1)"/>
<path d="M602,860 L620,860 L620,864 C620,895 644,904 682,904 C720,904 744.7,895 744.7,864 L744.7,860 L752.6,860 L752.6,930 C740,952 710,960 677,960 C644,960 614,952 602,930 Z" fill="#c7c8c4"/>
<path d="M602,896 C620,925 650,933 677,933 C704,933 734,925 752.6,896 L752.6,930 C740,952 710,960 677,960 C644,960 614,952 602,930 Z" fill="#bebfbb"/>
<path d="M602,896 C620,925 650,933 677,933 C704,933 734,925 752.6,896" fill="none" stroke="#efefed" stroke-width="2.2"/>
<path d="M602,930 C614,952 644,960 677,960 C710,960 740,952 752.6,930" fill="none" stroke="#a4a5a3" stroke-width="1.5"/>
</g>
<polyline points="993,82 783.5,82 691.8,175" fill="none" stroke="#00A94A" stroke-width="1.15"/>
<polyline points="385,299.5 625.6,299.5" fill="none" stroke="#00A94A" stroke-width="1.15"/>
<polyline points="994,290 778,290" fill="none" stroke="#00A94A" stroke-width="1.15"/>
<polyline points="994,491 678.9,491" fill="none" stroke="#00A94A" stroke-width="1.15"/>
<polyline points="385,665.3 638.4,665.3" fill="none" stroke="#00A94A" stroke-width="1.15"/>
<polyline points="994,821 703,821.3" fill="none" stroke="#00A94A" stroke-width="1.15"/>
<circle cx="691.8" cy="175" r="2.6" fill="#00A94A"/>
<circle cx="625.6" cy="299.5" r="2.6" fill="#00A94A"/>
<circle cx="778" cy="290" r="2.6" fill="#00A94A"/>
<circle cx="678.9" cy="491" r="2.6" fill="#00A94A"/>
<circle cx="638.4" cy="665.3" r="2.6" fill="#00A94A"/>
<circle cx="703" cy="821.3" r="2.6" fill="#00A94A"/>
<polygon points="20,49 385,49 385,126.5 362,149.5 20,149.5" fill="#E4017E"/>
<polygon points="20.5,264 385,264 385,307 362,330 20.5,330" fill="#00A63C"/>
<polygon points="20.5,628 385,628 385,705 362,728 20.5,728" fill="#00A63C"/>
<polygon points="993.5,49 1358.5,49 1358.5,92.5 1335.5,115.5 993.5,115.5" fill="#00A63C"/>
<polygon points="993.5,254.5 1358.5,254.5 1358.5,298 1335.5,321 993.5,321" fill="#00A63C"/>
<polygon points="993.5,455.7 1358.5,455.7 1358.5,499 1335.5,522 993.5,522" fill="#00A63C"/>
<polygon points="993.5,786.3 1358.5,786.3 1358.5,829.8 1335.5,852.8 993.5,852.8" fill="#00A63C"/>
<text x="200.7" y="89.2" font-size="29.8" fill="#fff" text-anchor="middle" textLength="313.7" lengthAdjust="spacingAndGlyphs">Modular manufacturing</text>
<text x="200.5" y="122.9" font-size="29.8" fill="#fff" text-anchor="middle" textLength="205.9" lengthAdjust="spacingAndGlyphs">and installation</text>
<text x="201.3" y="304.8" font-size="29.8" fill="#fff" text-anchor="middle" textLength="271.3" lengthAdjust="spacingAndGlyphs">Canned motor pump</text>
<text x="202.5" y="666.4" font-size="29.8" fill="#fff" text-anchor="middle" textLength="243.0" lengthAdjust="spacingAndGlyphs">Helical type steam</text>
<text x="201.7" y="699.8" font-size="29.8" fill="#fff" text-anchor="middle" textLength="134.1" lengthAdjust="spacingAndGlyphs">generator</text>
<text x="1175" y="90.8" font-size="29.8" fill="#fff" text-anchor="middle" textLength="244.8" lengthAdjust="spacingAndGlyphs">Integrated reactor</text>
<text x="1175.7" y="295.3" font-size="29.8" fill="#fff" text-anchor="middle" textLength="290.9" lengthAdjust="spacingAndGlyphs">PCCS Heat Exchanger</text>
<text x="1175.4" y="496.2" font-size="29.8" fill="#fff" text-anchor="middle" textLength="204.8" lengthAdjust="spacingAndGlyphs">In-vessel CEDM</text>
<text x="1175.5" y="827" font-size="29.8" fill="#fff" text-anchor="middle" textLength="312.5" lengthAdjust="spacingAndGlyphs">Boron-free reactor core</text>
<text x="202.4" y="370.0" font-size="25.7" fill="#111" text-anchor="middle" textLength="338.9" lengthAdjust="spacingAndGlyphs">Removes the possibility of a RCP</text>
<text x="202.2" y="401.3" font-size="25.7" fill="#111" text-anchor="middle" textLength="106.9" lengthAdjust="spacingAndGlyphs">seal LOCA</text>
<text x="202.9" y="762.4" font-size="25.7" fill="#111" text-anchor="middle" textLength="357.3" lengthAdjust="spacingAndGlyphs">Integrated steam generator within</text>
<text x="202.9" y="793.7" font-size="25.7" fill="#111" text-anchor="middle" textLength="315.5" lengthAdjust="spacingAndGlyphs">reactor vessel, reducing space</text>
<text x="202.5" y="824.2" font-size="25.7" fill="#111" text-anchor="middle" textLength="244.9" lengthAdjust="spacingAndGlyphs">and increasing modular</text>
<text x="203.2" y="855.5" font-size="25.7" fill="#111" text-anchor="middle" textLength="202.8" lengthAdjust="spacingAndGlyphs">fabrication benefits</text>
<text x="1175.7" y="154.2" font-size="25.7" fill="#111" text-anchor="middle" textLength="359.2" lengthAdjust="spacingAndGlyphs">Eliminates the possibility of a large</text>
<text x="1176" y="185.3" font-size="25.7" fill="#111" text-anchor="middle" textLength="326.5" lengthAdjust="spacingAndGlyphs">break loss-of-coolant accident</text>
<text x="1176.7" y="359.3" font-size="25.7" fill="#111" text-anchor="middle" textLength="343.9" lengthAdjust="spacingAndGlyphs">Maintains pressure and removes</text>
<text x="1176.8" y="390.7" font-size="25.7" fill="#111" text-anchor="middle" textLength="283.5" lengthAdjust="spacingAndGlyphs">heat in containment vessel</text>
<text x="1176.7" y="560.2" font-size="25.7" fill="#111" text-anchor="middle" textLength="296.5" lengthAdjust="spacingAndGlyphs">Removes the possibility of a</text>
<text x="1176.8" y="591.5" font-size="25.7" fill="#111" text-anchor="middle" textLength="304.9" lengthAdjust="spacingAndGlyphs">control rod ejection accident</text>
<text x="1175.2" y="890.2" font-size="25.7" fill="#111" text-anchor="middle" textLength="363.0" lengthAdjust="spacingAndGlyphs">System simplification and reducing</text>
<text x="1175" y="921.5" font-size="25.7" fill="#111" text-anchor="middle" textLength="258.5" lengthAdjust="spacingAndGlyphs">burdens on maintenance</text>
</svg></body></html>
